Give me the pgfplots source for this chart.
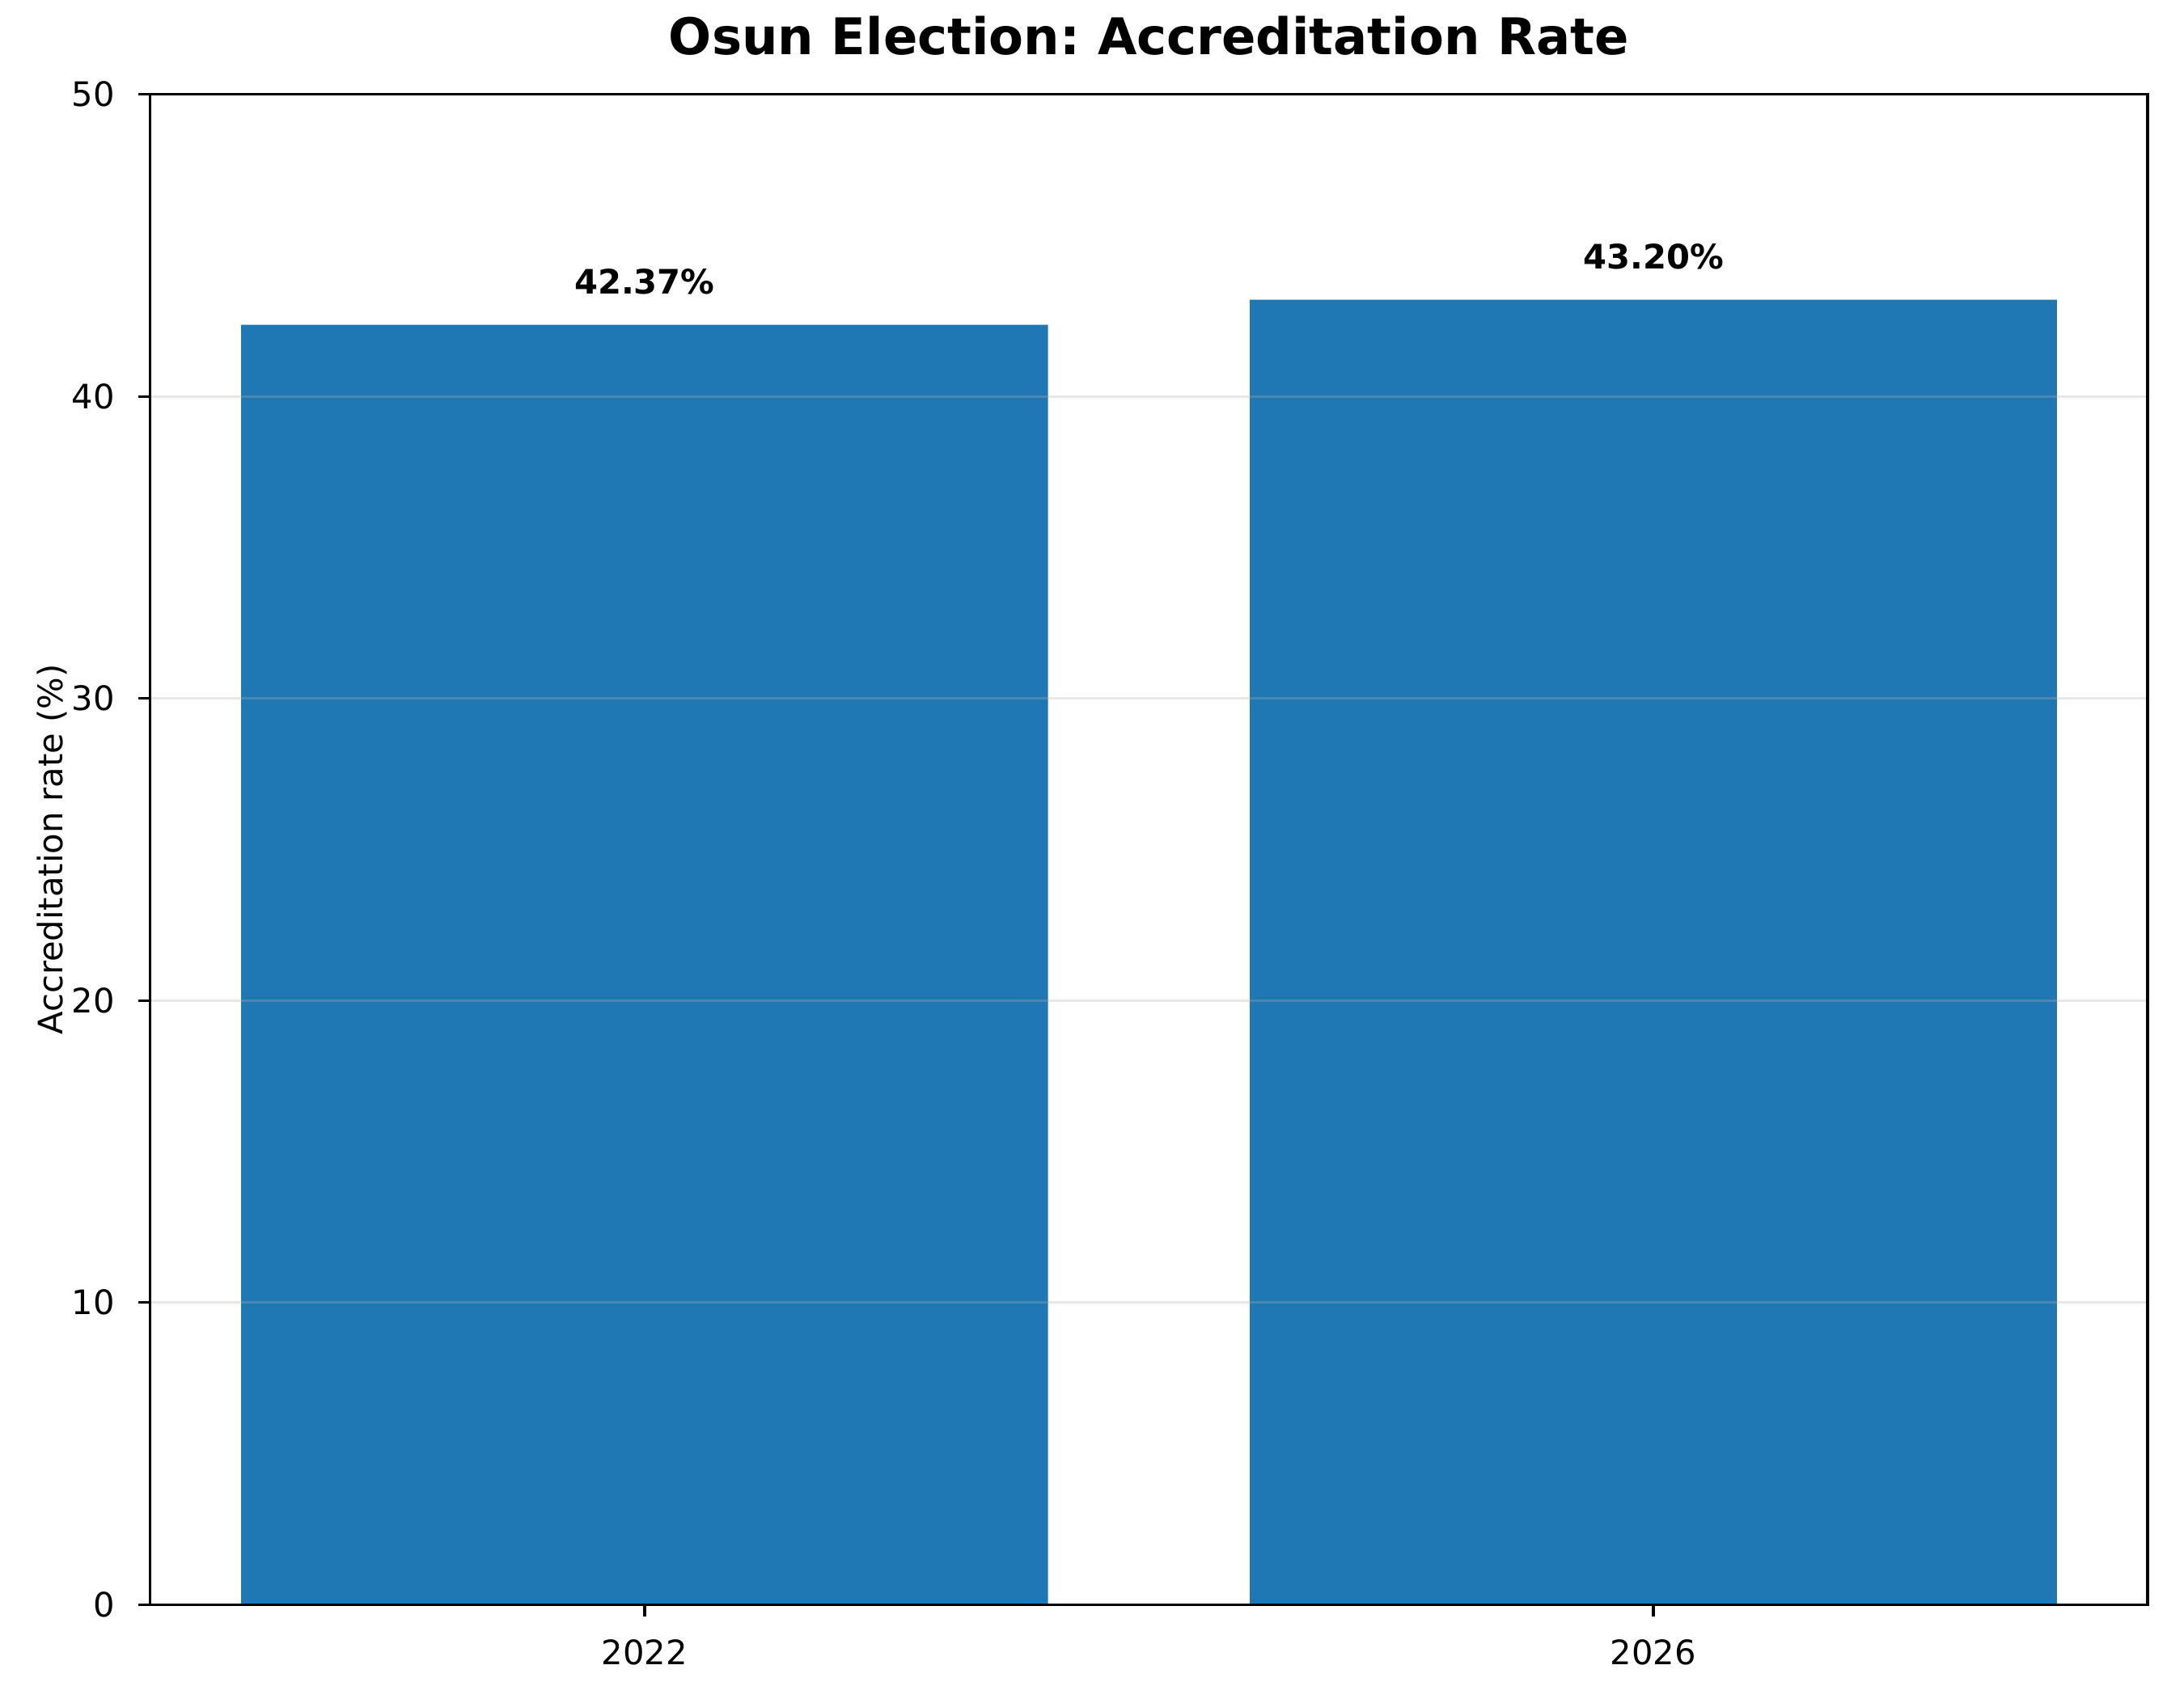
\documentclass[border=0pt]{standalone}
\usepackage{pgfplots}
\pgfplotsset{compat=1.18}
\usepackage{fontspec}
\setmainfont{DejaVu Sans}
\definecolor{barblue}{HTML}{1F77B4}
\definecolor{gridgray}{HTML}{B0B0B0}
\begin{document}
\frenchspacing
\begin{tikzpicture}
\useasboundingbox (0,0) rectangle (648pt,504pt);
\begin{axis}[
  at={(44.6pt,27.8pt)}, anchor=south west,
  scale only axis, width=592.6pt, height=448.2pt,
  xmin=-0.49, xmax=1.49, ymin=0, ymax=50,
  xtick={0,1}, xticklabels={2022,2026},
  ytick={0,10,20,30,40,50},
  tick align=outside, major tick length=3.5pt,
  tick style={black, line width=0.8pt},
  axis line style={line width=0.8pt},
  xtick pos=bottom, ytick pos=left,
  ymajorgrids,
  major grid style={gridgray, opacity=0.3, line width=0.8pt},
  axis on top,
  /pgf/number format/assume math mode=true,
  tick label style={font=\fontsize{10}{12}\selectfont},
  yticklabel style={anchor=east, xshift=-3.5pt},
  xticklabel style={anchor=base, yshift=-14.4pt},
  title={Osun Election: Accreditation Rate},
  title style={font=\bfseries\fontsize{15}{18}\selectfont, at={(0.5,1)}, anchor=base, yshift=5.8pt},
  ylabel={Accreditation rate (\%)},
  ylabel style={font=\fontsize{10}{12}\selectfont, at={(axis description cs:-0.049,0.5)}, anchor=center},
  ybar, bar width=0.8,
  nodes near coords={\pgfmathprintnumber[fixed,fixed zerofill,precision=2]{\pgfplotspointmeta}\%},
  nodes near coords style={font=\bfseries\fontsize{10}{12}\selectfont, anchor=base, yshift=9.1pt, /pgf/number format/assume math mode=true},
]
\addplot[fill=barblue, draw=none] coordinates {(0,42.37) (1,43.20)};
\end{axis}
\end{tikzpicture}
\end{document}
